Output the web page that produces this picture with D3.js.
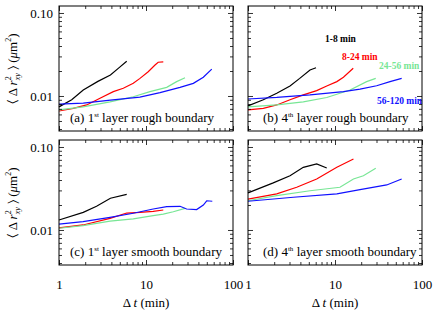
<!DOCTYPE html>
<html>
<head>
<meta charset="utf-8">
<script src="https://cdn.jsdelivr.net/npm/d3@7"></script>
<style>
  body { margin: 0; background: #fff; }
  svg { display: block; }
  text { font-family: "Liberation Serif", "Times New Roman", serif; }
</style>
</head>
<body>
<div id="chart"></div>
<script>
// [dt (min), <dr^2> (um^2)] per time window
const roughL1_black = [[1,0.0074],[1.4,0.0090],[1.9,0.0118],[2.8,0.0150],[3.9,0.0179],[4.8,0.0215],[6.0,0.0262]];
const roughL1_red   = [[1,0.0066],[1.46,0.0071],[2.08,0.0078],[2.96,0.0094],[4.21,0.0113],[5.48,0.0124],[7.14,0.0142],[8.53,0.0163],[10.6,0.0196],[12.7,0.0236],[13.8,0.0255],[15.8,0.0257]];
const roughL1_green = [[1,0.0068],[1.89,0.0074],[3.86,0.0085],[7.14,0.0098],[11.1,0.0113],[17.3,0.0127],[22.5,0.0149],[28.1,0.0166]];
const roughL1_blue  = [[1,0.0080],[1.9,0.0082],[3.9,0.0089],[8.5,0.0097],[14.5,0.0110],[24.6,0.0127],[35,0.0142],[45.6,0.0168],[57,0.0211]];

const roughL4_black = [[1,0.0076],[1.5,0.0090],[2.14,0.0108],[3.04,0.0132],[3.93,0.0163],[5.16,0.0206],[6.05,0.0219]];
const roughL4_red   = [[1,0.0068],[1.5,0.0071],[2.14,0.0078],[3.04,0.0090],[4.32,0.0103],[6.16,0.0116],[8.04,0.0132],[10.5,0.0149],[12.5,0.0168],[16.2,0.0216]];
const roughL4_green = [[1,0.0074],[2.14,0.0078],[4.32,0.0085],[8.04,0.0096],[14.9,0.0118],[23.1,0.0149],[29.4,0.0163]];
const roughL4_blue  = [[1,0.0092],[2.14,0.0096],[5.16,0.0103],[12.5,0.0113],[19.4,0.0121],[30.1,0.0133],[42.9,0.0149],[58.4,0.0163]];

const smoothL1_black = [[1,0.0132],[1.9,0.0163],[2.7,0.0193],[3.9,0.0241],[6.0,0.0269]];
const smoothL1_red   = [[1,0.0106],[1.89,0.0115],[3.86,0.0138],[6.0,0.0160],[8.53,0.0163],[12.1,0.0168],[15.8,0.0174]];
const smoothL1_green = [[1,0.0105],[1.89,0.0113],[3.86,0.0128],[7.14,0.0136],[12.1,0.0149],[15.8,0.0155],[20.6,0.0166],[28.1,0.0182]];
const smoothL1_blue  = [[1,0.0118],[1.89,0.0126],[3.86,0.0142],[7.14,0.0159],[12.1,0.0179],[17.3,0.0191],[24.6,0.0193],[29.3,0.0179],[38.2,0.0176],[45.6,0.0200],[49.9,0.0225],[57.8,0.0222]];

const smoothL4_black = [[1,0.0280],[1.95,0.0370],[3.04,0.0451],[4.32,0.0569],[6.16,0.0624],[8.04,0.0558]];
const smoothL4_red   = [[1,0.0236],[2.14,0.0272],[3.63,0.0327],[6.16,0.0411],[10.5,0.0569],[16.3,0.0716]];
const smoothL4_green = [[1,0.0225],[2.14,0.0259],[5.16,0.0297],[11.4,0.0327],[16.3,0.0411],[21.2,0.0451],[29.4,0.0553]];
const smoothL4_blue  = [[1,0.0222],[3.32,0.0248],[10.5,0.0272],[19.4,0.0306],[39.3,0.0349],[58.4,0.0411]];

const windows = ["1-8 min", "8-24 min", "24-56 min", "56-120 min"];
const colors = ["#000000", "#ff0000", "#78e695", "#1010ff"];

const xMajor = [1, 10, 100];
const xMinor = [2,3,4,5,6,7,8,9,20,30,40,50,60,70,80,90];
const yMajor = [0.01, 0.1];
const yMinor = [0.004,0.005,0.006,0.007,0.008,0.009,0.02,0.03,0.04,0.05,0.06,0.07,0.08,0.09];

const panels = [
  { key: "a", layer: "1", sup: "st", kind: "rough",  col: 0, row: 0, series: [roughL1_black, roughL1_red, roughL1_green, roughL1_blue] },
  { key: "b", layer: "4", sup: "th", kind: "rough",  col: 1, row: 0, series: [roughL4_black, roughL4_red, roughL4_green, roughL4_blue] },
  { key: "c", layer: "1", sup: "st", kind: "smooth", col: 0, row: 1, series: [smoothL1_black, smoothL1_red, smoothL1_green, smoothL1_blue] },
  { key: "d", layer: "4", sup: "th", kind: "smooth", col: 1, row: 1, series: [smoothL4_black, smoothL4_red, smoothL4_green, smoothL4_blue] }
];

const W = 436, H = 312;
const pw = 174, ph = 125;
const lefts = [59, 248], tops = [6, 140];

const svg = d3.select("#chart").append("svg")
  .attr("width", W).attr("height", H);

const x = d3.scaleLog().domain([1, 100]).range([0, pw]);
const y = d3.scaleLog().domain([0.003787, 0.1214]).range([ph, 0]);

const line = d3.line()
  .x(d => x(d[0]))
  .y(d => y(d[1]));

function ticks(g, axis, vals, size, fmt) {
  g.call(axis.tickValues(vals).tickSize(size).tickPadding(fmt ? 6 : 0).tickFormat(fmt || (() => "")));
  g.select(".domain").remove();
  g.selectAll(".tick line").attr("stroke", "#000").attr("stroke-width", 0.8);
  g.selectAll(".tick text").attr("font-size", 13).attr("fill", "#000")
    .style("font-family", "'Liberation Serif', serif");
}

panels.forEach(p => {
  const g = svg.append("g")
    .attr("transform", "translate(" + lefts[p.col] + "," + tops[p.row] + ")");

  // data lines
  p.series.forEach((s, i) => {
    g.append("path")
      .datum(s)
      .attr("d", line)
      .attr("fill", "none")
      .attr("stroke", colors[i])
      .attr("stroke-width", 1.2);
  });

  // inward ticks on all four sides
  const showX = p.row === 1, showY = p.col === 0;
  const bx = g.append("g").attr("transform", "translate(0," + ph + ")");
  ticks(bx.append("g"), d3.axisBottom(x), xMajor, -5, showX ? d3.format("d") : null);
  ticks(bx.append("g"), d3.axisBottom(x), xMinor, -3, null);
  ticks(g.append("g"), d3.axisTop(x), xMajor, -5, null);
  ticks(g.append("g"), d3.axisTop(x), xMinor, -3, null);
  ticks(g.append("g"), d3.axisLeft(y), yMajor, -5, showY ? d3.format(".2f") : null);
  ticks(g.append("g"), d3.axisLeft(y), yMinor, -3, null);
  const ry = g.append("g").attr("transform", "translate(" + pw + ",0)");
  ticks(ry.append("g"), d3.axisRight(y), yMajor, -5, null);
  ticks(ry.append("g"), d3.axisRight(y), yMinor, -3, null);
  if (showX) bx.selectAll(".tick text").attr("dy", null).attr("y", 24);

  g.append("rect")
    .attr("width", pw).attr("height", ph)
    .attr("fill", "none").attr("stroke", "#000").attr("stroke-width", 1);

  // panel caption
  const cap = g.append("text")
    .attr("x", p.col === 0 ? 11 : 15).attr("y", 116)
    .attr("font-size", 13).attr("fill", "#000");
  cap.append("tspan").text("(" + p.key + ") " + p.layer);
  cap.append("tspan").text(p.sup).attr("font-size", 7).attr("dy", -5);
  cap.append("tspan").text(" layer " + p.kind + " boundary").attr("dy", 5);

  // y-axis title
  if (showY) {
    const yt = svg.append("text")
      .attr("transform", "translate(17," + (tops[p.row] + ph / 2) + ") rotate(-90)")
      .attr("text-anchor", "middle")
      .attr("font-size", 13).attr("fill", "#000");
    yt.append("tspan").text("\u2329 \u0394 ");
    yt.append("tspan").text("r").attr("font-style", "italic");
    yt.append("tspan").text("xy").attr("font-style", "italic").attr("font-size", 8).attr("dy", 3);
    yt.append("tspan").text("2").attr("font-size", 8).attr("dy", -9).attr("dx", -7);
    yt.append("tspan").text(" \u232A (").attr("dy", 6).attr("dx", 3);
    yt.append("tspan").text("\u03bc").attr("font-style", "italic");
    yt.append("tspan").text("m");
    yt.append("tspan").text("2").attr("font-size", 8).attr("dy", -6);
    yt.append("tspan").text(")").attr("dy", 6);
  }

  // x-axis title
  if (showX) {
    const xt = svg.append("text")
      .attr("x", lefts[p.col] + pw / 2).attr("y", 307)
      .attr("text-anchor", "middle")
      .attr("font-size", 13).attr("fill", "#000");
    xt.append("tspan").text("\u0394 ");
    xt.append("tspan").text("t").attr("font-style", "italic");
    xt.append("tspan").text(" (min)");
  }
});

// time-window legend in panel (b)
const legendX = [325, 342, 379, 377];
const legendY = [42, 60, 69, 104];
windows.forEach((w, i) => {
  svg.append("text")
    .attr("x", legendX[i]).attr("y", legendY[i])
    .attr("font-size", 9.5).attr("font-weight", "bold")
    .attr("fill", colors[i])
    .text(w);
});
</script>
</body>
</html>
